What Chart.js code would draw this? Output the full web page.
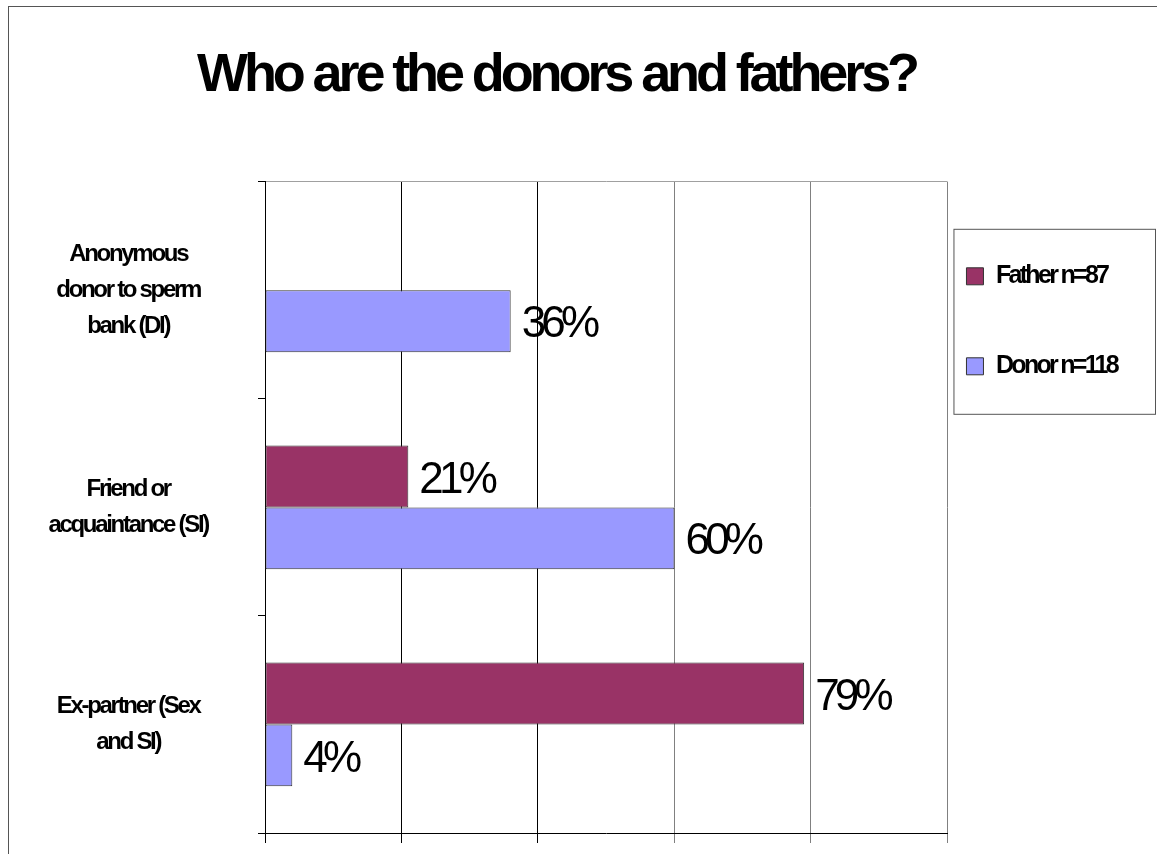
<!DOCTYPE html>
<html>
<head>
<meta charset="utf-8">
<title>Who are the donors and fathers?</title>
<script src="https://cdn.jsdelivr.net/npm/chart.js@4.4.1/dist/chart.umd.min.js"></script>
<style>
  html, body { margin: 0; padding: 0; background: #fff; overflow: hidden; }
  #frame { position: absolute; left: 8px; top: 6px; width: 1300px; height: 1000px; border: 1px solid #555; }
  #chart { position: absolute; left: 0; top: 0; }
</style>
</head>
<body>
<div id="frame"></div>
<canvas id="chart" width="1157" height="854"></canvas>
<script>
// data
const categories = [
  ['Anonymous', 'donor to sperm', 'bank (DI)'],
  ['Friend or', 'acquaintance (SI)'],
  ['Ex-partner (Sex', 'and SI)']
];
const seriesNames = ['Father n=87', 'Donor n=118'];
const fatherValues = [null, 21, 79];
const donorValues = [36, 60, 4];
const axisMax = 100;
const axisStep = 20;

const FONT = '"Liberation Sans", Arial, sans-serif';

// the slide text is set with condensed spacing, keyed by font size
const LETTER_SPACING = { 54: -4.1, 44: -4.8, 25: -2.7, 24: -2.3 };

function condense(ctx) {
  const fill = ctx.fillText.bind(ctx);
  const measure = ctx.measureText.bind(ctx);
  const apply = () => {
    const m = /([\d.]+)px/.exec(ctx.font);
    const size = m ? parseFloat(m[1]) : 12;
    ctx.letterSpacing = (LETTER_SPACING[size] || 0) + 'px';
  };
  ctx.fillText = (...args) => { apply(); fill(...args); };
  ctx.measureText = (text) => { apply(); return measure(text); };
}

// value labels to the right of each bar
const barLabels = {
  id: 'barLabels',
  afterDatasetsDraw(chart) {
    const ctx = chart.ctx;
    ctx.save();
    ctx.font = '44px ' + FONT;
    ctx.fillStyle = '#000';
    ctx.textAlign = 'left';
    ctx.textBaseline = 'middle';
    chart.data.datasets.forEach((ds, i) => {
      chart.getDatasetMeta(i).data.forEach((bar, j) => {
        const v = ds.data[j];
        if (v == null) return;
        ctx.fillText(v + '%', bar.x + 11, bar.y + 4);
      });
    });
    ctx.restore();
  }
};

// box around the legend
const legendFrame = {
  id: 'legendFrame',
  afterDraw(chart) {
    const lg = chart.legend;
    const ctx = chart.ctx;
    ctx.save();
    ctx.strokeStyle = '#555';
    ctx.lineWidth = 1;
    ctx.strokeRect(lg.left + 6.5, lg.top + 47.5, chart.width - lg.left - 8, 185);
    ctx.restore();
  }
};

const canvas = document.getElementById('chart');
condense(canvas.getContext('2d'));

new Chart(canvas, {
  type: 'bar',
  data: {
    labels: categories,
    datasets: [
      {
        label: seriesNames[0],
        data: fatherValues,
        backgroundColor: '#993366',
        borderColor: '#333',
        borderWidth: 1,
        borderSkipped: false
      },
      {
        label: seriesNames[1],
        data: donorValues,
        backgroundColor: '#9999ff',
        borderColor: '#333',
        borderWidth: 1,
        borderSkipped: false
      }
    ]
  },
  options: {
    indexAxis: 'y',
    responsive: false,
    animation: false,
    events: [],
    categoryPercentage: 0.57,
    barPercentage: 1,
    // negative left padding keeps the title centred where the slide has it
    layout: { padding: { top: 0, left: -14, right: 30, bottom: 11 } },
    scales: {
      x: {
        min: 0,
        max: axisMax,
        ticks: { stepSize: axisStep, display: false },
        grid: {
          color: (c) => (c.index <= 2 ? '#000' : '#808080'),
          lineWidth: 1,
          tickLength: 10
        },
        border: { display: true, color: '#000', width: 1 }
      },
      y: {
        afterFit: (scale) => {
          scale.width = 279;
          scale.paddingTop = 0;
          scale.paddingBottom = 0;
        },
        grid: {
          drawOnChartArea: true,
          color: (c) => (c.index === 0 ? '#a0a0a0' : 'rgba(0,0,0,0)'),
          tickColor: '#000',
          tickLength: 7,
          offset: true
        },
        border: { display: true, color: '#000', width: 1 },
        ticks: {
          crossAlign: 'center',
          padding: 50,
          color: '#000',
          font: { family: FONT, size: 24, weight: 'bold', lineHeight: '36px' }
        }
      }
    },
    plugins: {
      title: {
        display: true,
        text: 'Who are the donors and fathers?',
        color: '#000',
        font: { family: FONT, size: 54, weight: 'bold', lineHeight: 1.2 },
        padding: { top: 44, bottom: 73 }
      },
      legend: {
        position: 'right',
        align: 'start',
        fullSize: false,
        title: { display: true, text: ' ', font: { size: 12, lineHeight: 1 }, padding: { top: 0, bottom: 51 } },
        labels: {
          color: '#000',
          boxWidth: 17,
          boxHeight: 17,
          padding: 19,
          font: { family: FONT, size: 25, weight: 'bold', lineHeight: '35.5px' },
          generateLabels(chart) {
            const items = Chart.defaults.plugins.legend.labels.generateLabels(chart);
            items.forEach((it) => { it.text = [it.text, '']; });
            return items;
          }
        }
      },
      tooltip: { enabled: false }
    }
  },
  plugins: [barLabels, legendFrame]
});
</script>
</body>
</html>
